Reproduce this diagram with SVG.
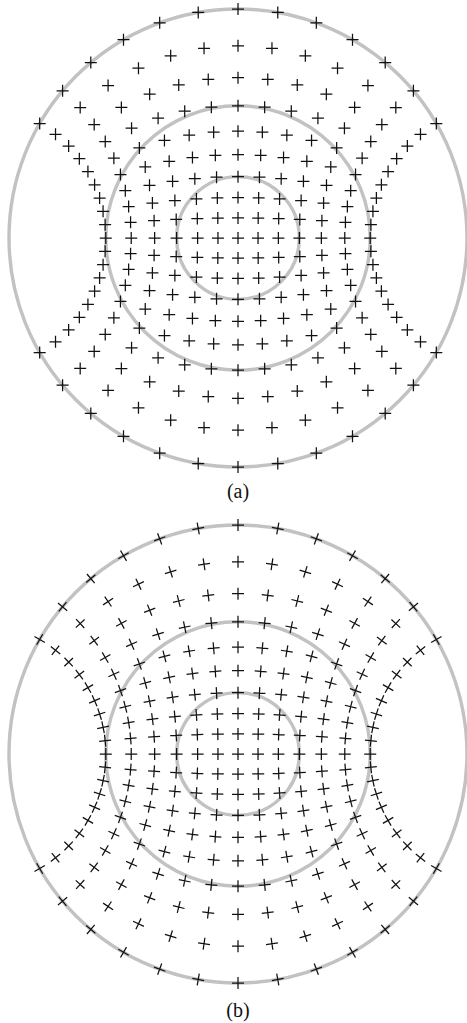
<svg xmlns="http://www.w3.org/2000/svg" width="467" height="1023" viewBox="0 0 467 1023">
<style>
.ring{fill:none;stroke:#c2c2c2;stroke-width:3.4}
.cr{fill:none;stroke:#111;stroke-width:1.25}
.lbl{font-family:"Liberation Serif","Times New Roman",serif;font-size:20px;fill:#111;text-anchor:middle}
</style>
<defs>
<path id="c" class="cr" d="M-6 0H6M0 -6V6"/>
<!-- panel (a): upright crosses -->
<g id="aQ">
<use href="#c" x="20.19" y="-19.88"/><use href="#c" x="20.65" y="-40.06"/><use href="#c" x="21.46" y="-60.86"/><use href="#c" x="22.67" y="-82.63"/><use href="#c" x="24.35" y="-105.79"/><use href="#c" x="26.65" y="-130.87"/><use href="#c" x="29.75" y="-158.53"/><use href="#c" x="33.96" y="-189.66"/><use href="#c" x="39.77" y="-225.52"/>
<use href="#c" x="40.68" y="-19.41"/><use href="#c" x="41.59" y="-39.09"/><use href="#c" x="43.18" y="-59.32"/><use href="#c" x="45.54" y="-80.43"/><use href="#c" x="48.83" y="-102.77"/><use href="#c" x="53.29" y="-126.79"/><use href="#c" x="59.27" y="-153.03"/><use href="#c" x="67.34" y="-182.19"/><use href="#c" x="78.32" y="-215.19"/>
<use href="#c" x="61.80" y="-18.59"/><use href="#c" x="63.13" y="-37.40"/><use href="#c" x="65.43" y="-56.66"/><use href="#c" x="68.83" y="-76.64"/><use href="#c" x="73.55" y="-97.60"/><use href="#c" x="79.90" y="-119.85"/><use href="#c" x="88.34" y="-143.77"/><use href="#c" x="99.53" y="-169.78"/><use href="#c" x="114.5" y="-198.32"/>
<use href="#c" x="83.90" y="-17.36"/><use href="#c" x="85.59" y="-34.89"/><use href="#c" x="88.49" y="-52.73"/><use href="#c" x="92.76" y="-71.06"/><use href="#c" x="98.63" y="-90.05"/><use href="#c" x="106.43" y="-109.85"/><use href="#c" x="116.64" y="-130.62"/><use href="#c" x="129.92" y="-152.48"/><use href="#c" x="147.20" y="-175.42"/>
<use href="#c" x="107.42" y="-15.65"/><use href="#c" x="109.37" y="-31.39"/><use href="#c" x="112.69" y="-47.28"/><use href="#c" x="117.54" y="-63.40"/><use href="#c" x="124.14" y="-79.79"/><use href="#c" x="132.76" y="-96.47"/><use href="#c" x="143.81" y="-113.39"/><use href="#c" x="157.81" y="-130.41"/><use href="#c" x="175.42" y="-147.20"/>
<use href="#c" x="132.89" y="-13.32"/><use href="#c" x="134.93" y="-26.64"/><use href="#c" x="138.39" y="-39.95"/><use href="#c" x="143.40" y="-53.22"/><use href="#c" x="150.08" y="-66.38"/><use href="#c" x="158.66" y="-79.33"/><use href="#c" x="169.36" y="-91.88"/><use href="#c" x="182.48" y="-103.75"/><use href="#c" x="198.32" y="-114.5"/>
</g>
<!-- panel (b): crosses turned with the grid -->
<g id="bQ">
<use href="#c" transform="translate(20.19,-19.88) rotate(0.88)"/><use href="#c" transform="translate(20.65,-40.06) rotate(1.77)"/><use href="#c" transform="translate(21.46,-60.86) rotate(2.69)"/><use href="#c" transform="translate(22.67,-82.63) rotate(3.65)"/><use href="#c" transform="translate(24.35,-105.79) rotate(4.67)"/><use href="#c" transform="translate(26.65,-130.87) rotate(5.78)"/><use href="#c" transform="translate(29.75,-158.53) rotate(7.01)"/><use href="#c" transform="translate(33.96,-189.66) rotate(8.40)"/><use href="#c" transform="translate(39.77,-225.52) rotate(10)"/>
<use href="#c" transform="translate(40.68,-19.41) rotate(1.77)"/><use href="#c" transform="translate(41.59,-39.09) rotate(3.56)"/><use href="#c" transform="translate(43.18,-59.32) rotate(5.41)"/><use href="#c" transform="translate(45.54,-80.43) rotate(7.34)"/><use href="#c" transform="translate(48.83,-102.77) rotate(9.40)"/><use href="#c" transform="translate(53.29,-126.79) rotate(11.63)"/><use href="#c" transform="translate(59.27,-153.03) rotate(14.08)"/><use href="#c" transform="translate(67.34,-182.19) rotate(16.83)"/><use href="#c" transform="translate(78.32,-215.19) rotate(20)"/>
<use href="#c" transform="translate(61.80,-18.59) rotate(2.69)"/><use href="#c" transform="translate(63.13,-37.40) rotate(5.41)"/><use href="#c" transform="translate(65.43,-56.66) rotate(8.21)"/><use href="#c" transform="translate(68.83,-76.64) rotate(11.14)"/><use href="#c" transform="translate(73.55,-97.60) rotate(14.24)"/><use href="#c" transform="translate(79.90,-119.85) rotate(17.59)"/><use href="#c" transform="translate(88.34,-143.77) rotate(21.25)"/><use href="#c" transform="translate(99.53,-169.78) rotate(25.35)"/><use href="#c" transform="translate(114.5,-198.32) rotate(30)"/>
<use href="#c" transform="translate(83.90,-17.36) rotate(3.65)"/><use href="#c" transform="translate(85.59,-34.89) rotate(7.34)"/><use href="#c" transform="translate(88.49,-52.73) rotate(11.14)"/><use href="#c" transform="translate(92.76,-71.06) rotate(15.09)"/><use href="#c" transform="translate(98.63,-90.05) rotate(19.27)"/><use href="#c" transform="translate(106.43,-109.85) rotate(23.74)"/><use href="#c" transform="translate(116.64,-130.62) rotate(28.60)"/><use href="#c" transform="translate(129.92,-152.48) rotate(33.97)"/><use href="#c" transform="translate(147.20,-175.42) rotate(40)"/>
<use href="#c" transform="translate(107.42,-15.65) rotate(4.67)"/><use href="#c" transform="translate(109.37,-31.39) rotate(9.40)"/><use href="#c" transform="translate(112.69,-47.28) rotate(14.24)"/><use href="#c" transform="translate(117.54,-63.40) rotate(19.27)"/><use href="#c" transform="translate(124.14,-79.79) rotate(24.54)"/><use href="#c" transform="translate(132.76,-96.47) rotate(30.14)"/><use href="#c" transform="translate(143.81,-113.39) rotate(36.17)"/><use href="#c" transform="translate(157.81,-130.41) rotate(42.74)"/><use href="#c" transform="translate(175.42,-147.20) rotate(50)"/>
<use href="#c" transform="translate(132.89,-13.32) rotate(5.78)"/><use href="#c" transform="translate(134.93,-26.64) rotate(11.63)"/><use href="#c" transform="translate(138.39,-39.95) rotate(17.59)"/><use href="#c" transform="translate(143.40,-53.22) rotate(23.74)"/><use href="#c" transform="translate(150.08,-66.38) rotate(30.14)"/><use href="#c" transform="translate(158.66,-79.33) rotate(36.87)"/><use href="#c" transform="translate(169.36,-91.88) rotate(44.02)"/><use href="#c" transform="translate(182.48,-103.75) rotate(51.69)"/><use href="#c" transform="translate(198.32,-114.5) rotate(60)"/>
</g>
<g id="H">
<use href="#c" x="20.04" y="0"/><use href="#c" x="40.38" y="0"/><use href="#c" x="61.36" y="0"/><use href="#c" x="83.35" y="0"/><use href="#c" x="106.78" y="0"/><use href="#c" x="132.21" y="0"/>
</g>
<g id="V">
<use href="#c" x="0" y="-20.04"/><use href="#c" x="0" y="-40.38"/><use href="#c" x="0" y="-61.36"/><use href="#c" x="0" y="-83.35"/><use href="#c" x="0" y="-106.78"/><use href="#c" x="0" y="-132.21"/><use href="#c" x="0" y="-160.35"/><use href="#c" x="0" y="-192.15"/><use href="#c" x="0" y="-229"/>
</g>
</defs>
<rect width="467" height="1023" fill="#fff"/>

<g id="panel-a" transform="translate(238,238)">
<g id="a-rings">
<circle class="ring" r="229"/>
<circle class="ring" r="132.21"/>
<circle class="ring" r="61.36"/>
</g>
<g id="a-points">
<use href="#c"/>
<use href="#H"/><use href="#H" transform="scale(-1,1)"/>
<use href="#V"/><use href="#V" transform="scale(1,-1)"/>
<use href="#aQ"/><use href="#aQ" transform="scale(-1,1)"/><use href="#aQ" transform="scale(1,-1)"/><use href="#aQ" transform="scale(-1,-1)"/>
</g>
</g>
<text id="label-a" class="lbl" x="238" y="498">(a)</text>

<g id="panel-b" transform="translate(238,754)">
<g id="b-rings">
<circle class="ring" r="229"/>
<circle class="ring" r="132.21"/>
<circle class="ring" r="61.36"/>
</g>
<g id="b-points">
<use href="#c"/>
<use href="#H"/><use href="#H" transform="scale(-1,1)"/>
<use href="#V"/><use href="#V" transform="scale(1,-1)"/>
<use href="#bQ"/><use href="#bQ" transform="scale(-1,1)"/><use href="#bQ" transform="scale(1,-1)"/><use href="#bQ" transform="scale(-1,-1)"/>
</g>
</g>
<text id="label-b" class="lbl" x="238" y="1017">(b)</text>
</svg>
